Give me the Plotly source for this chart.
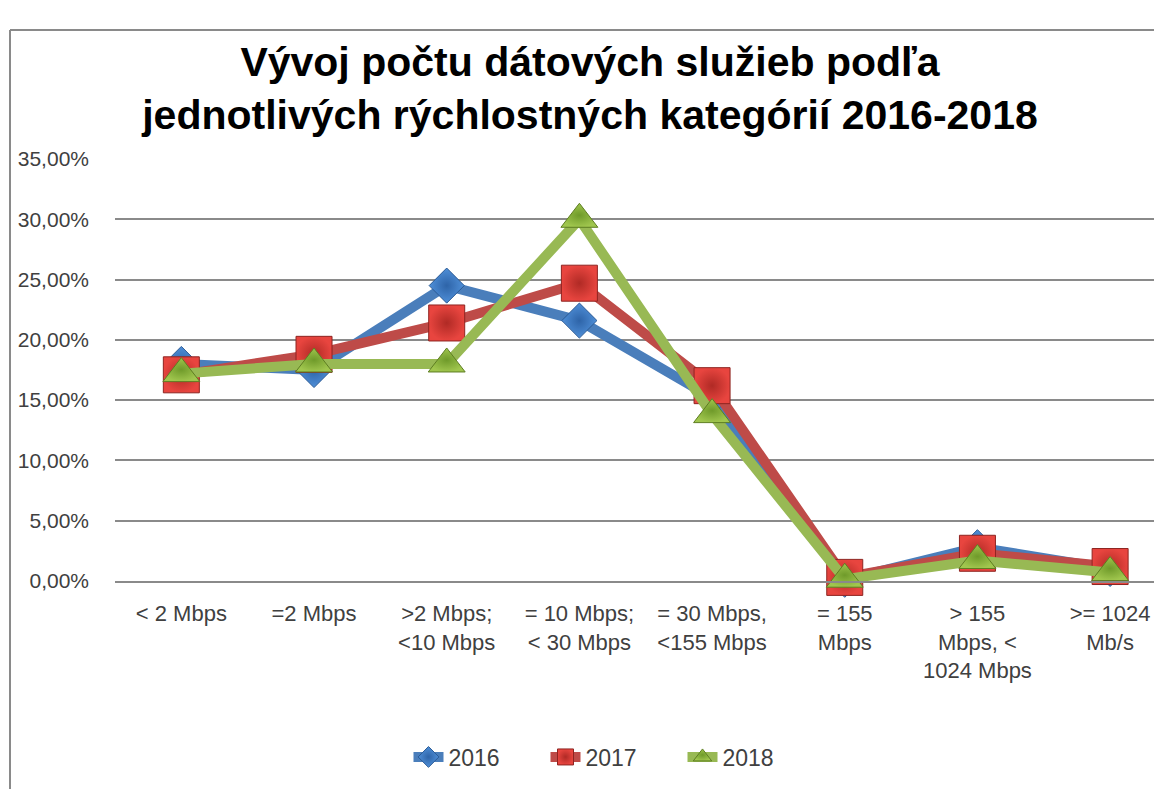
import plotly.graph_objects as go

categories = [
    "< 2 Mbps",
    "=2 Mbps",
    ">2 Mbps;\n<10 Mbps",
    "= 10 Mbps;\n< 30 Mbps",
    "= 30 Mbps,\n<155 Mbps",
    "= 155\nMbps",
    "> 155\nMbps, <\n1024 Mbps",
    ">= 1024\nMb/s",
]
years = ["2016", "2017", "2018"]
values_2016 = [18.0, 17.5, 24.5, 21.6, 15.2, 0.1, 2.8, 1.0]
values_2017 = [17.1, 18.8, 21.4, 24.7, 16.2, 0.3, 2.3, 1.2]
values_2018 = [17.2, 18.0, 18.0, 30.0, 13.8, 0.15, 1.7, 0.7]
y_ticks = [0, 5, 10, 15, 20, 25, 30, 35]

title_lines = ["Vývoj počtu dátových služieb podľa",
               "jednotlivých rýchlostných kategórií 2016-2018"]


def esc(s):
    return s.replace("<", "&lt;").replace(">", "&gt;").replace("\n", "<br>")


tick_text = [esc(c) for c in categories]
y_tick_text = [f"{v:.2f}".replace(".", ",") + "%" for v in y_ticks]
x_idx = list(range(len(categories)))

series = [
    dict(name=years[0], y=values_2016, line="#4A7EBB", mfill="#4F8FD8", mgrad="#2E64A8",
         medge="#2A5A95", symbol="diamond", size=27),
    dict(name=years[1], y=values_2017, line="#BE4B48", mfill="#E8453F", mgrad="#B02A25",
         medge="#8E2420", symbol="square", size=36),
    dict(name=years[2], y=values_2018, line="#98B954", mfill="#A0C64E", mgrad="#6F9A2A",
         medge="#5E7E22", symbol="triangle-up", size=32),
]

fig = go.Figure()
for s in series:
    fig.add_trace(go.Scatter(
        x=x_idx, y=s["y"], name=s["name"], mode="lines+markers",
        line=dict(color=s["line"], width=10),
        marker=dict(symbol=s["symbol"], size=s["size"], color=s["mfill"],
                    gradient=dict(type="radial", color=s["mgrad"]),
                    line=dict(color=s["medge"], width=1)),
        cliponaxis=False,
    ))

OFF = 8  # page body margin
W, H = 1162 - OFF, 789 - OFF
# target screen coordinates of the plot area
SL, SR, ST, SB = 115, 1162, 159, 581
L, T = SL - OFF, ST - OFF
R, B = (1162 - SR), (789 - SB)
pw, ph = SR - SL, SB - ST

fig.update_layout(
    width=W, height=H,
    margin=dict(l=L, r=R, t=T, b=B, autoexpand=False),
    paper_bgcolor="white", plot_bgcolor="white",
    font=dict(family="Liberation Sans, Arial, sans-serif", color="#404040", size=21),
    title=dict(text="<br>".join("<b>" + t + "</b>" for t in title_lines),
               x=(590 - OFF) / W, xanchor="center", y=1 - 68 / H, yanchor="middle",
               font=dict(family="Liberation Sans, Arial, sans-serif", size=41, color="#000000")),
    showlegend=True,
    legend=dict(orientation="h", x=(614 - SL) / pw, xanchor="center",
                y=(SB - 757) / ph, yanchor="middle", entrywidth=92,
                font=dict(size=23, color="#404040"), bgcolor="rgba(0,0,0,0)",
                traceorder="normal"),
    xaxis=dict(range=[-0.5, 7 + (1162 - 1110) / 133.0], tickmode="array", tickvals=x_idx,
               ticktext=tick_text, showgrid=False, zeroline=False, showline=True,
               linecolor="#8a8a8a", linewidth=1.5, ticks="", ticklabelstandoff=12,
               tickangle=0, fixedrange=True, tickfont=dict(size=22)),
    yaxis=dict(range=[0, 35], tickmode="array", tickvals=y_ticks, ticktext=y_tick_text,
               showgrid=True, gridcolor="#8a8a8a", gridwidth=1.5,
               zeroline=False, showline=False, ticks="", ticklabelstandoff=25,
               fixedrange=True),
)

# chart-area border (left and top edges visible in the reference crop)
bx = (10 - SL) / pw
by_top = (SB - 30) / ph
fig.add_shape(type="line", xref="paper", yref="paper",
              x0=bx, x1=bx, y0=by_top, y1=(SB - 789) / ph,
              line=dict(color="#8a8a8a", width=2))
fig.add_shape(type="line", xref="paper", yref="paper",
              x0=bx, x1=1.0, y0=by_top, y1=by_top,
              line=dict(color="#8a8a8a", width=2))

fig.write_html("out.html")
